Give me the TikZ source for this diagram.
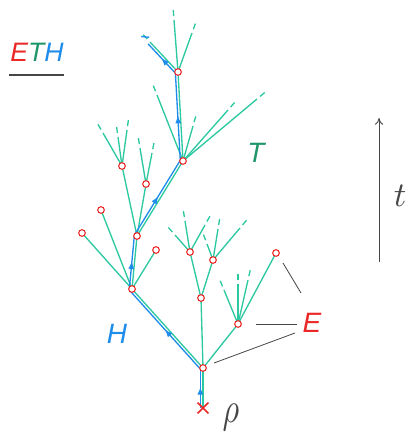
\documentclass[tikz,border=0pt]{standalone}
\usepackage{fontspec}
\setmainfont{Liberation Sans}
\usetikzlibrary{calc,decorations.markings,arrows.meta,shapes.misc}
\definecolor{tg}{RGB}{44,200,160}
\definecolor{tgd}{RGB}{30,150,105}
\definecolor{tb}{RGB}{30,140,235}
\definecolor{tr}{RGB}{235,40,40}
\definecolor{tk}{RGB}{70,70,70}
\newcommand\leafto[3]{\coordinate (#2) at (#3);
  \draw[tree] (#1) -- (#2);
  \draw[tree] ($(#2)!-3pt!(#1)$) -- ($(#2)!-7.5pt!(#1)$);}
\newcommand\hseg[2]{\draw[hpath] ($(#1)!2pt!90:(#2)$) -- ($(#2)!2pt!-90:(#1)$);}
\begin{document}
\begin{tikzpicture}[x=0.75pt,y=-0.75pt,
  tree/.style={tg, line width=1pt},
  hpath/.style={tb, line width=1pt, postaction={decorate},
    decoration={markings, mark=at position 0.5 with {\arrow{Triangle[length=5pt,width=4pt]}}}},
  vtx/.style={circle, draw=tr, fill=white, line width=0.8pt, inner sep=0pt, minimum size=5pt},
  elink/.style={tk, line width=0.6pt},
  lbl/.style={inner sep=0pt, font=\fontsize{21}{21}\selectfont\itshape}]
\useasboundingbox (0,0) rectangle (408,441);
% vertices
\coordinate (X) at (203,408);
\coordinate (A) at (203,368);
\coordinate (B) at (132,289);
\coordinate (C) at (201,298);
\coordinate (D) at (238,324);
\coordinate (B1) at (137,236);
\coordinate (L1) at (82,233);
\coordinate (L2) at (101,210);
\coordinate (L3) at (156,250);
\coordinate (N) at (183,161);
\coordinate (P) at (122,166);
\coordinate (Q) at (146,184);
\coordinate (M) at (178,72);
\coordinate (C1) at (190,252);
\coordinate (C2) at (213,260);
\coordinate (D1) at (276,253);
% inner edges
\draw[tree] (X) -- (A);
\draw[tree] (A) -- (B);
\draw[tree] (A) -- (C);
\draw[tree] (A) -- (D);
\draw[tree] (B) -- (B1);
\draw[tree] (B) -- (L1);
\draw[tree] (B) -- (L2);
\draw[tree] (B) -- (L3);
\draw[tree] (B1) -- (N);
\draw[tree] (B1) -- (P);
\draw[tree] (B1) -- (Q);
\draw[tree] (N) -- (M);
\draw[tree] (C) -- (C1);
\draw[tree] (C) -- (C2);
\draw[tree] (D) -- (D1);
% leaves
\leafto{M}{m1}{150,42}
\leafto{M}{m2}{174,20}
\leafto{M}{m3}{192,33}
\leafto{N}{n1}{157,95}
\leafto{N}{n2}{193,126}
\leafto{N}{n3}{228,110}
\leafto{N}{n4}{257,99}
\leafto{P}{p1}{103,133}
\leafto{P}{p2}{118,137}
\leafto{P}{p3}{127,130}
\leafto{Q}{q1}{140,148}
\leafto{Q}{q2}{152,153}
\leafto{C1}{c1}{175,235}
\leafto{C1}{c2}{185,221}
\leafto{C1}{c3}{205,225}
\leafto{C2}{c4}{207,244}
\leafto{C2}{c5}{218,229}
\leafto{C2}{c6}{240,228}
\leafto{D}{d1}{224,290}
\leafto{D}{d2}{238,284}
\leafto{D}{d3}{248,280}
% H path
\hseg{X}{A}
\hseg{A}{B}
\hseg{B}{B1}
\hseg{B1}{N}
\hseg{N}{M}
\hseg{M}{m1}
\draw[tb, line width=1pt] ($($(m1)!-3pt!(M)$)!2pt!90:(m1)$) -- ($($(m1)!-7.5pt!(M)$)!2pt!-90:(m1)$);
% vertex marks
\foreach \v in {A,B,C,D,B1,L1,L2,L3,N,P,Q,M,C1,C2,D1}
  \node[vtx] (v\v) at (\v) {};
\node[cross out, draw=tr, line width=1.2pt, minimum size=7pt, inner sep=0pt] (vX) at (X) {};
% E links
\coordinate (e1a) at (283,263); \coordinate (e1b) at (301,293);
\coordinate (e2a) at (256,324); \coordinate (e2b) at (297,324);
\coordinate (e3a) at (214,363); \coordinate (e3b) at (295,333);
\draw[elink] (e1a) -- (e1b);
\draw[elink] (e2a) -- (e2b);
\draw[elink] (e3a) -- (e3b);
% labels
\node[lbl, text=tr] (El) at (312,323) {E};
\node[lbl, text=tgd] (Tl) at (256,153) {T};
\node[lbl, text=tb] (Hl) at (117,334) {H};
\node[inner sep=0pt, font=\fontsize{20}{20}\selectfont\itshape] (eth) at (37,52)
  {\textcolor{tr}{E}\textcolor{tgd}{T}\textcolor{tb}{H}};
\coordinate (u1) at (9,75); \coordinate (u2) at (64,75);
\draw[tk, line width=1.1pt] (u1) -- (u2);
\node[text=tk, inner sep=0pt, xscale=2.4, yscale=3.2] (rho) at (231,417) {$\rho$};
% time axis
\coordinate (ta0) at (379,262); \coordinate (ta1) at (379,118);
\draw[tk, line width=0.7pt, -{To[length=5pt,width=6pt]}] (ta0) -- (ta1);
\node[text=tk, inner sep=0pt, scale=2.6] (tlab) at (400,196) {$t$};
\end{tikzpicture}
\end{document}
